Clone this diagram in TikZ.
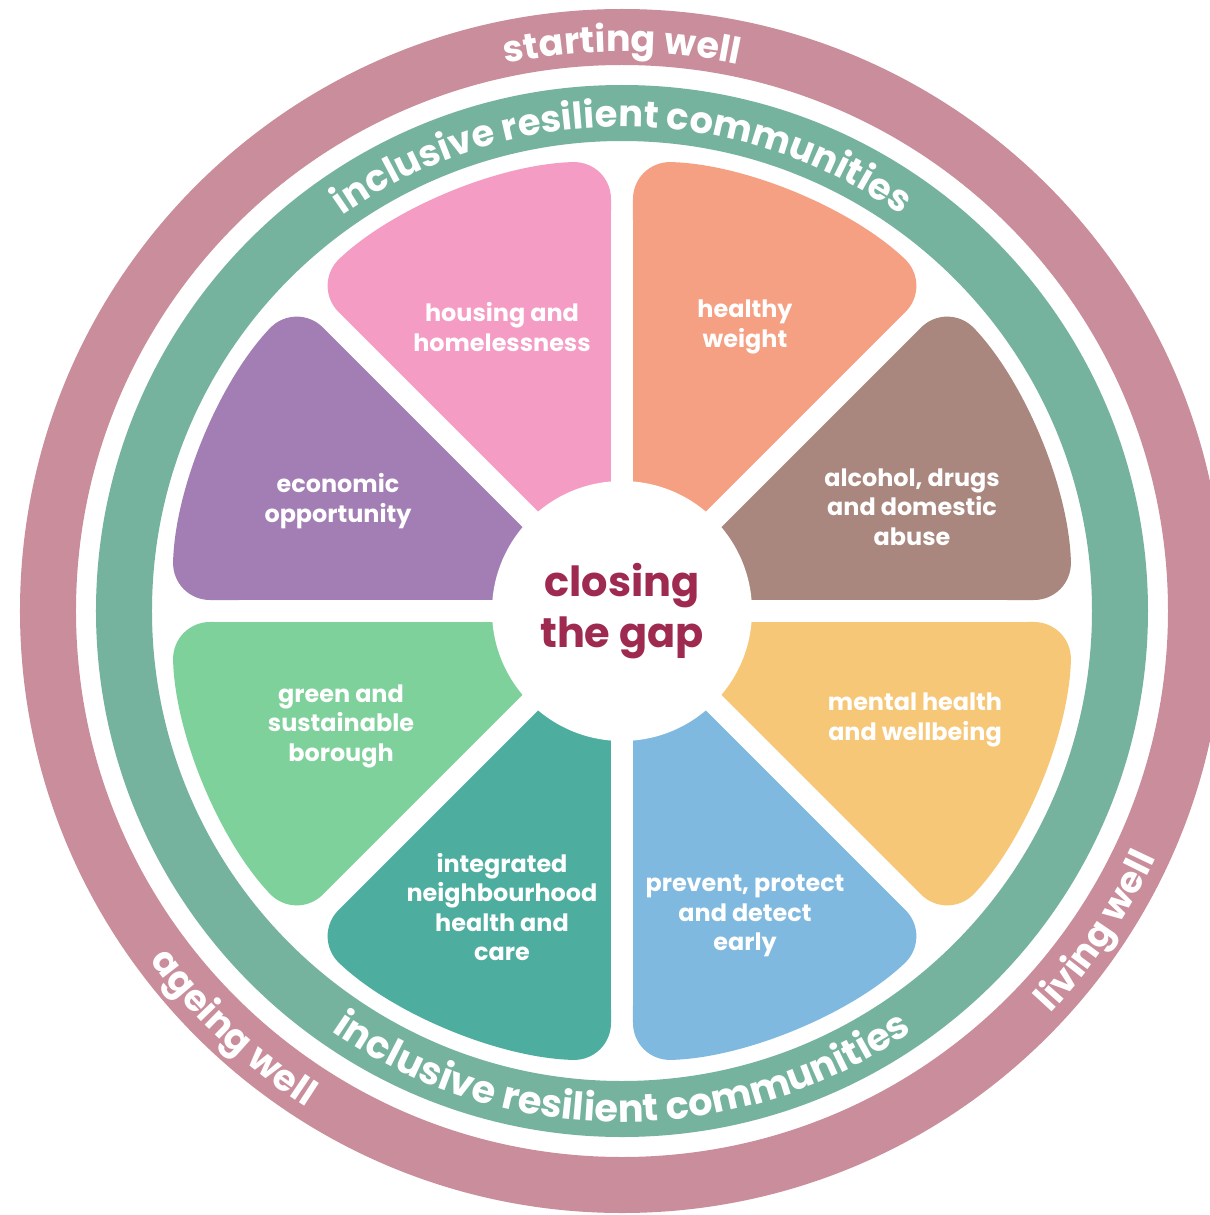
\documentclass[tikz,border=0pt]{standalone}
\usepackage{fontspec}
\setmainfont{Poppins}
\usetikzlibrary{decorations.text}

\definecolor{ringpink}{HTML}{C98D9C}
\definecolor{ringgreen}{HTML}{76B39E}
\definecolor{segbrown}{HTML}{A9877E}
\definecolor{segorange}{HTML}{F5A083}
\definecolor{segpink}{HTML}{F49CC4}
\definecolor{segpurple}{HTML}{A27EB5}
\definecolor{seggreen}{HTML}{7ED19A}
\definecolor{segteal}{HTML}{4DAEA0}
\definecolor{segblue}{HTML}{7FB9E0}
\definecolor{segyellow}{HTML}{F7C778}
\definecolor{gapred}{HTML}{9E2A4F}

\newcommand\ringfont{\bfseries\fontsize{10.4}{12}\selectfont}

\tikzset{
    seglabel/.style={text=white, align=center, font=\bfseries\fontsize{6.8}{8.4}\selectfont},
    ringtext/.style={decorate, decoration={text along path, text align=center, text color=white, text={#1}}},
}

\begin{document}
\begin{tikzpicture}
    \useasboundingbox (-6.22,-6.04) rectangle (5.87,6.11);
    \fill[white] (-6.22,-6.04) rectangle (5.87,6.11);
    % the two rings
    \draw[ringpink, line width=0.56cm] (0,0) circle (5.74);
    \draw[ringgreen, line width=0.56cm] (0,0) circle (4.98);
    % eight segments, apex hidden under the hub
    \foreach \a/\c in {0/segbrown, 45/segorange, 90/segpink, 135/segpurple, 180/seggreen, 225/segteal, 270/segblue, 315/segyellow}
        \fill[\c, rounded corners=0.38cm] (\a+22.5:0.29) -- (\a+1.4:4.5) arc[start angle=\a+1.4, end angle=\a+43.6, radius=4.5] -- cycle;
    \node[circle, fill=white, minimum size=2.6cm, inner sep=0pt, text=gapred, align=center, font=\bfseries\fontsize{11.8}{14.6}\selectfont] (gap) at (0,0) {closing\\the gap};
    % segment labels
    \node[seglabel] (housing) at (-1.20,2.84) {housing and\\homelessness};
    \node[seglabel] (weight) at (1.23,2.84) {healthy\\weight};
    \node[seglabel] (alcohol) at (2.90,1.04) {alcohol, drugs\\and domestic\\abuse};
    \node[seglabel] (economy) at (-2.84,1.10) {economic\\opportunity};
    \node[seglabel] (green) at (-2.81,-1.15) {green and\\sustainable\\borough};
    \node[seglabel] (mental) at (2.93,-1.09) {mental health\\and wellbeing};
    \node[seglabel] (care) at (-1.20,-2.96) {integrated\\neighbourhood\\health and\\care};
    \node[seglabel] (prevent) at (1.23,-3.05) {prevent, protect\\and detect\\early};
    % text round the rings
    \path[ringtext={|\ringfont|starting well}] (170:5.59) arc[start angle=170, end angle=10, radius=5.59];
    \path[ringtext={|\ringfont|ageing well}] (197:5.88) arc[start angle=197, end angle=257, radius=5.88];
    \path[ringtext={|\ringfont|living well}] (296:5.88) arc[start angle=296, end angle=356, radius=5.88];
    \path[ringtext={|\ringfont\fontsize{10.5}{13}\selectfont|inclusive resilient communities}] (170:4.84) arc[start angle=170, end angle=10, radius=4.84];
    \path[ringtext={|\ringfont\fontsize{10.9}{13}\selectfont|inclusive resilient communities}] (190:5.11) arc[start angle=190, end angle=350, radius=5.11];
\end{tikzpicture}
\end{document}
